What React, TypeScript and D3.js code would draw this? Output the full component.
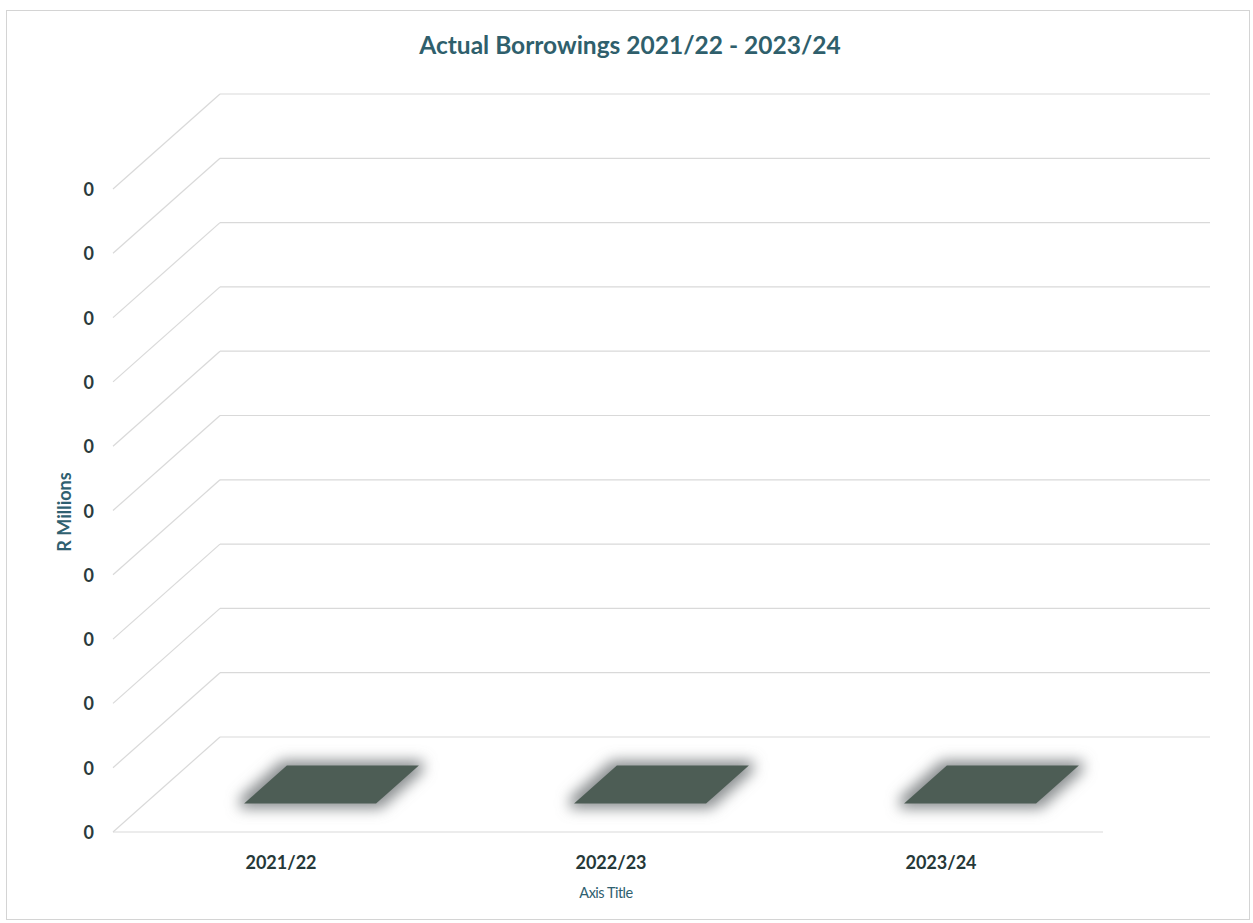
import React from "react";
import * as d3 from "d3";

// Borrowings per financial year (R millions)
const categories = ["2021/22", "2022/23", "2023/24"];
const borrowings = [0, 0, 0];

// Value-axis ticks: the axis runs 0..1 and each label uses a whole-number format
const tickValues = [0, 0.1, 0.2, 0.3, 0.4, 0.5, 0.6, 0.7, 0.8, 0.9, 1.0];
const tickLabels = ["0", "0", "0", "0", "0", "0", "0", "0", "0", "0", "0"];

const chartTitle = "Actual Borrowings 2021/22 - 2023/24";
const yAxisTitle = "R Millions";
const xAxisTitle = "Axis Title";

const W = 1253;
const H = 923;

// 3D perspective: back wall plane and an oblique depth offset for the floor
const back = { left: 220, right: 1210, top: 94, bottom: 737 };
const depth = { dx: -107, dy: 95 };

export default function App() {
  const y = d3.scaleLinear().domain([0, 1]).range([back.bottom, back.top]);
  const x = d3
    .scaleBand<string>()
    .domain(categories)
    .range([back.left, back.right])
    .paddingInner(0)
    .paddingOuter(0);

  // Bars occupy the middle 40% of the band and of the floor depth
  const barFrac = 0.4;
  const depthLo = 0.3;
  const depthHi = 0.7;

  const font = "Lato, 'Open Sans', 'DejaVu Sans', sans-serif";
  const gridColor = "#d9d9d9";

  const pt = (bx: number, by: number, t: number) =>
    `${bx + depth.dx * t},${by + depth.dy * t}`;

  return (
    <svg
      width={W}
      height={H}
      style={{ position: "absolute", left: 0, top: 0, background: "#fff" }}
      fontFamily={font}
    >
      <defs>
        <filter id="barGlow" x="-40%" y="-100%" width="180%" height="300%">
          <feMorphology operator="dilate" radius="5" />
          <feGaussianBlur stdDeviation="7" />
        </filter>
      </defs>

      {/* chart area border */}
      <rect x={6.5} y={10.5} width={1243} height={909} fill="#fff" stroke="#d4d4d4" strokeWidth={1} />

      {/* title */}
      <text
        x={630}
        y={54}
        textAnchor="middle"
        fontSize={24.5}
        fontWeight={700}
        fill="#2f5f6c"
      >
        {chartTitle}
      </text>

      {/* back wall gridlines and side wall diagonals */}
      {tickValues.map((v, i) => {
        const yy = y(v);
        return (
          <g key={i}>
            <line x1={back.left} x2={back.right} y1={yy} y2={yy} stroke={gridColor} strokeWidth={1.2} />
            <line
              x1={back.left}
              y1={yy}
              x2={back.left + depth.dx}
              y2={yy + depth.dy}
              stroke={gridColor}
              strokeWidth={1.2}
            />
          </g>
        );
      })}

      {/* floor front edge */}
      <line
        x1={back.left + depth.dx}
        x2={back.right + depth.dx}
        y1={back.bottom + depth.dy}
        y2={back.bottom + depth.dy}
        stroke={gridColor}
        strokeWidth={1.2}
      />

      {/* value-axis tick labels on the front plane */}
      {tickValues.map((v, i) => (
        <text
          key={i}
          x={94}
          y={y(v) + depth.dy + 7}
          textAnchor="end"
          fontSize={18}
          fontWeight={700}
          fill="#2b3b3d"
        >
          {tickLabels[i]}
        </text>
      ))}

      {/* bars (zero-height columns drawn as their base on the floor) */}
      {categories.map((c, i) => {
        const bw = x.bandwidth();
        const x0 = (x(c) as number) + (bw * (1 - barFrac)) / 2;
        const x1 = x0 + bw * barFrac;
        const base = y(0);
        const topY = y(borrowings[i]);
        const poly = [
          pt(x0, base, depthLo),
          pt(x1, base, depthLo),
          pt(x1, base, depthHi),
          pt(x0, base, depthHi),
        ].join(" ");
        const front = [
          pt(x0, topY, depthHi),
          pt(x1, topY, depthHi),
          pt(x1, base, depthHi),
          pt(x0, base, depthHi),
        ].join(" ");
        return (
          <g key={c}>
            <polygon points={poly} fill="#8a8e90" filter="url(#barGlow)" />
            <polygon points={poly} fill="#4d5d55" />
            <polygon points={front} fill="#4d5d55" />
          </g>
        );
      })}

      {/* category labels */}
      {categories.map((c) => (
        <text
          key={c}
          x={(x(c) as number) + x.bandwidth() / 2 + depth.dx + 3}
          y={869}
          textAnchor="middle"
          fontSize={18}
          fontWeight={700}
          fill="#263838"
        >
          {c}
        </text>
      ))}

      {/* axis titles */}
      <text x={606} y={898} textAnchor="middle" fontSize={14.5} fill="#2f6070" letterSpacing={-0.5}>
        {xAxisTitle}
      </text>
      <text
        transform={`translate(71,512) rotate(-90)`}
        textAnchor="middle"
        fontSize={18}
        fontWeight={700}
        fill="#2f6070"
      >
        {yAxisTitle}
      </text>
    </svg>
  );
}
